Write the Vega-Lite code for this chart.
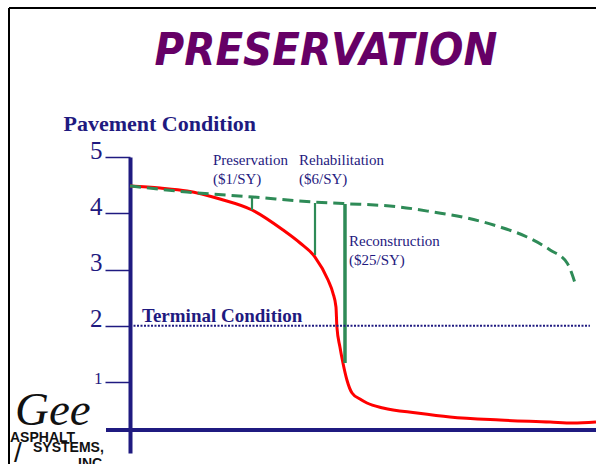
{
  "$schema": "https://vega.github.io/schema/vega-lite/v6.json",
  "autosize": {"type": "none"},
  "padding": {"left": 130, "top": 157, "right": 0, "bottom": 11},
  "width": 466,
  "height": 296,
  "background": "white",
  "title": {
    "text": "PRESERVATION",
    "anchor": "middle",
    "dx": -37,
    "dy": 123,
    "offset": 20,
    "baseline": "alphabetic",
    "font": "Liberation Sans Narrow, DejaVu Sans Condensed, sans-serif",
    "fontSize": 45,
    "fontWeight": "bold",
    "fontStyle": "italic",
    "color": "#660066"
  },
  "config": {
    "view": {"stroke": null},
    "axisY": {
      "domainColor": "#1f1a80",
      "domainWidth": 4,
      "tickColor": "#1f1a80",
      "tickWidth": 1.5,
      "tickSize": 25,
      "grid": false,
      "labelFont": "Liberation Serif",
      "labelColor": "#1f1a80",
      "labelPadding": 3,
      "labelBaseline": "alphabetic",
      "labelOffset": 1,
      "titleFont": "Liberation Serif",
      "titleFontSize": 22,
      "titleFontWeight": "bold",
      "titleColor": "#1f1a80",
      "titleAngle": 0,
      "titleAlign": "left",
      "titleBaseline": "alphabetic",
      "titleX": -67,
      "titleY": -27
    }
  },
  "datasets": {
    "red": [
      {"age": 0, "condition": 4.485},
      {"age": 1.29, "condition": 4.449},
      {"age": 2.45, "condition": 4.396},
      {"age": 3.86, "condition": 4.253},
      {"age": 5.24, "condition": 4.058},
      {"age": 6.57, "condition": 3.702},
      {"age": 7.30, "condition": 3.471},
      {"age": 7.94, "condition": 3.222},
      {"age": 8.50, "condition": 2.813},
      {"age": 8.71, "condition": 2.582},
      {"age": 8.84, "condition": 2.333},
      {"age": 8.88, "condition": 1.978},
      {"age": 9.01, "condition": 1.622},
      {"age": 9.14, "condition": 1.338},
      {"age": 9.31, "condition": 1.036},
      {"age": 9.53, "condition": 0.804},
      {"age": 9.87, "condition": 0.698},
      {"age": 10.17, "condition": 0.627},
      {"age": 10.86, "condition": 0.538},
      {"age": 12.32, "condition": 0.449},
      {"age": 13.73, "condition": 0.378},
      {"age": 15.88, "condition": 0.324},
      {"age": 18.03, "condition": 0.289},
      {"age": 19.01, "condition": 0.271},
      {"age": 20, "condition": 0.289}
    ],
    "green": [
      {"age": 0, "condition": 4.485},
      {"age": 2.45, "condition": 4.378},
      {"age": 5.28, "condition": 4.289},
      {"age": 7.85, "condition": 4.200},
      {"age": 9.14, "condition": 4.173},
      {"age": 11.59, "condition": 4.111},
      {"age": 13.0, "condition": 4.022},
      {"age": 14.46, "condition": 3.916},
      {"age": 15.88, "condition": 3.756},
      {"age": 17.04, "condition": 3.578},
      {"age": 18.03, "condition": 3.347},
      {"age": 18.76, "condition": 3.116},
      {"age": 19.10, "condition": 2.760}
    ],
    "treatments": [
      {"name": "Preservation", "age": 5.236, "condition": 4.289, "condition2": 4.058},
      {"name": "Rehabilitation", "age": 7.940, "condition": 4.182, "condition2": 3.258},
      {"name": "Reconstruction", "age": 9.227, "condition": 4.164, "condition2": 1.338}
    ],
    "annotations": [
      {"label": "Preservation\n($1/SY)", "age": 3.562, "condition": 4.858},
      {"label": "Rehabilitation\n($6/SY)", "age": 7.253, "condition": 4.858},
      {"label": "Reconstruction\n($25/SY)", "age": 9.399, "condition": 3.418}
    ],
    "terminal": [
      {"label": "Terminal Condition", "age": 0, "age2": 19.74, "condition": 2.0, "labelAge": 0.515, "labelCondition": 2.067}
    ],
    "xaxis": [
      {"age": -1.03, "age2": 20, "condition": 0.147}
    ],
    "frameTop": [
      {"age": -5.193, "age2": 20, "condition": 7.649}
    ],
    "frameLeft": [
      {"age": -5.193, "condition": 7.649, "condition2": -0.458}
    ],
    "logoScript": [
      {"label": "Gee", "age": -4.936, "condition": 0.236}
    ],
    "logoWords": [
      {"label": "ASPHALT", "age": -5.150, "condition": -0.067},
      {"label": "SYSTEMS,", "age": -4.163, "condition": -0.244},
      {"label": "INC", "age": -2.232, "condition": -0.53}
    ],
    "logoSlash": [
      {"label": "/", "age": -4.98, "condition": -0.42}
    ]
  },
  "layer": [
    {
      "data": {"name": "red"},
      "mark": {"type": "line", "color": "#ff0000", "strokeWidth": 3, "interpolate": "monotone", "clip": false},
      "encoding": {
        "x": {"field": "age", "type": "quantitative", "scale": {"domain": [0, 20], "nice": false, "zero": false}, "axis": null},
        "y": {"field": "condition", "type": "quantitative", "scale": {"domain": [-0.262, 5], "nice": false, "zero": false},
              "axis": {"values": [1, 2, 3, 4, 5], "format": "d", "title": "Pavement Condition",
                       "labelFontSize": {"condition": {"test": "datum.value == 1", "value": 17}, "value": 25}}}
      }
    },
    {
      "data": {"name": "green"},
      "mark": {"type": "line", "color": "#2e8b57", "strokeWidth": 3, "strokeDash": [11, 6], "interpolate": "monotone"},
      "encoding": {
        "x": {"field": "age", "type": "quantitative", "axis": null},
        "y": {"field": "condition", "type": "quantitative"}
      }
    },
    {
      "data": {"name": "treatments"},
      "mark": {"type": "rule", "color": "#2e8b57"},
      "encoding": {
        "x": {"field": "age", "type": "quantitative", "axis": null},
        "y": {"field": "condition", "type": "quantitative"},
        "y2": {"field": "condition2"},
        "strokeWidth": {"condition": {"test": "datum.name == 'Reconstruction'", "value": 3.5}, "value": 2.2}
      }
    },
    {
      "data": {"name": "terminal"},
      "mark": {"type": "rule", "color": "#1f1a80", "strokeWidth": 2, "strokeDash": [2, 1.5]},
      "encoding": {
        "x": {"field": "age", "type": "quantitative", "axis": null},
        "x2": {"field": "age2"},
        "y": {"field": "condition", "type": "quantitative"}
      }
    },
    {
      "data": {"name": "terminal"},
      "mark": {"type": "text", "align": "left", "baseline": "alphabetic", "font": "Liberation Serif", "fontSize": 19, "fontWeight": "bold", "color": "#1f1a80"},
      "encoding": {
        "x": {"field": "labelAge", "type": "quantitative", "axis": null},
        "y": {"field": "labelCondition", "type": "quantitative"},
        "text": {"field": "label"}
      }
    },
    {
      "data": {"name": "annotations"},
      "mark": {"type": "text", "align": "left", "baseline": "alphabetic", "font": "Liberation Serif", "fontSize": 15, "lineBreak": "\n", "lineHeight": 19, "color": "#1f1a80"},
      "encoding": {
        "x": {"field": "age", "type": "quantitative", "axis": null},
        "y": {"field": "condition", "type": "quantitative"},
        "text": {"field": "label"}
      }
    },
    {
      "data": {"name": "xaxis"},
      "mark": {"type": "rule", "color": "#1f1a80", "strokeWidth": 4},
      "encoding": {
        "x": {"field": "age", "type": "quantitative", "axis": null},
        "x2": {"field": "age2"},
        "y": {"field": "condition", "type": "quantitative"}
      }
    },
    {
      "data": {"name": "frameTop"},
      "mark": {"type": "rule", "color": "#000000", "strokeWidth": 2},
      "encoding": {
        "x": {"field": "age", "type": "quantitative", "axis": null},
        "x2": {"field": "age2"},
        "y": {"field": "condition", "type": "quantitative"}
      }
    },
    {
      "data": {"name": "frameLeft"},
      "mark": {"type": "rule", "color": "#000000", "strokeWidth": 2},
      "encoding": {
        "x": {"field": "age", "type": "quantitative", "axis": null},
        "y": {"field": "condition", "type": "quantitative"},
        "y2": {"field": "condition2"}
      }
    },
    {
      "data": {"name": "logoScript"},
      "mark": {"type": "text", "align": "left", "baseline": "alphabetic", "font": "Liberation Serif", "fontSize": 47, "fontStyle": "italic", "color": "#111111"},
      "encoding": {
        "x": {"field": "age", "type": "quantitative", "axis": null},
        "y": {"field": "condition", "type": "quantitative"},
        "text": {"field": "label"}
      }
    },
    {
      "data": {"name": "logoWords"},
      "mark": {"type": "text", "align": "left", "baseline": "alphabetic", "font": "Liberation Sans", "fontSize": 14, "fontWeight": "bold", "color": "#111111"},
      "encoding": {
        "x": {"field": "age", "type": "quantitative", "axis": null},
        "y": {"field": "condition", "type": "quantitative"},
        "text": {"field": "label"}
      }
    },
    {
      "data": {"name": "logoSlash"},
      "mark": {"type": "text", "align": "left", "baseline": "alphabetic", "font": "Liberation Sans", "fontSize": 28, "color": "#111111"},
      "encoding": {
        "x": {"field": "age", "type": "quantitative", "axis": null},
        "y": {"field": "condition", "type": "quantitative"},
        "text": {"field": "label"}
      }
    }
  ]
}
